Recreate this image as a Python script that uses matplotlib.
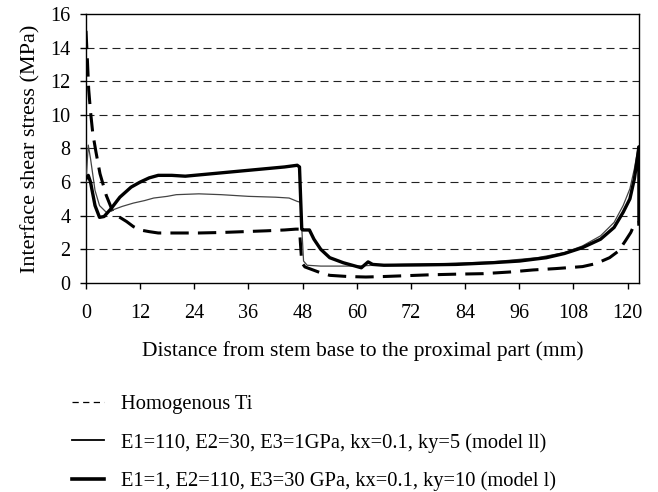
import matplotlib.pyplot as plt
from matplotlib.lines import Line2D

plt.rcParams['font.family'] = ['Liberation Serif', 'DejaVu Serif']

# Homogenous Ti stem
x_ti = [0, 0.3, 0.6, 1.0, 1.5, 2.2, 3.1, 4.5, 6, 7.5, 9, 10.5, 12, 14, 16, 20, 25, 30, 35,
        40, 44, 46.5, 47.3, 47.8, 48.5, 50, 52, 54, 58, 62, 66, 70, 76, 82, 88, 94, 99,
        104, 110, 113, 116, 118, 119.5, 120.7, 121.6, 122.5]
y_ti = [15.0, 13.3, 11.5, 10.2, 8.9, 7.8, 6.5, 5.2, 4.2, 3.9, 3.65, 3.35, 3.15, 3.05, 2.97,
        2.97, 2.97, 3.0, 3.05, 3.1, 3.15, 3.2, 3.2, 1.2, 0.95, 0.8, 0.6, 0.45, 0.38, 0.35,
        0.38, 0.42, 0.48, 0.52, 0.55, 0.65, 0.77, 0.85, 0.97, 1.15, 1.5, 1.9, 2.5, 3.0,
        3.55, 3.6]

# model ll
x_m2 = [0, 0.5, 1.0, 2, 3, 4.5, 6, 8, 10.5, 13, 15, 18, 20, 25, 30, 36, 42, 45, 46.8, 47.5,
        48.2, 49, 52, 56, 60, 64, 70, 80, 90, 100, 106, 110, 114, 117, 119, 120.5, 121.5,
        122.3, 122.5]
y_m2 = [6.0, 8.2, 7.4, 5.5, 4.6, 4.2, 4.35, 4.55, 4.75, 4.9, 5.05, 5.15, 5.25, 5.3, 5.25,
        5.15, 5.1, 5.05, 4.85, 4.8, 1.3, 1.05, 1.0, 1.0, 1.0, 1.05, 1.1, 1.15, 1.25, 1.5,
        1.8, 2.2, 2.8, 3.6, 4.6, 5.6, 6.8, 8.0, 4.0]

# model l
x_m1 = [0, 0.5, 1.0, 2.0, 3.0, 4.0, 5.5, 7.5, 10, 12, 14, 16, 19, 22, 26, 32, 38, 44, 46.8,
        47.3, 47.8, 48.0, 49.5, 50.5, 52, 54, 57, 61, 62.5, 63.5, 66, 74, 82, 90, 96, 102,
        106, 110, 114, 117, 119, 120.5, 121.5, 122.2, 122.5, 122.5]
y_m1 = [6.2, 6.4, 6.0, 4.6, 3.9, 3.95, 4.4, 5.1, 5.7, 6.0, 6.25, 6.4, 6.4, 6.35, 6.45, 6.6,
        6.75, 6.9, 7.0, 6.9, 3.2, 3.15, 3.15, 2.6, 2.0, 1.5, 1.2, 0.9, 1.25, 1.1, 1.05,
        1.07, 1.1, 1.2, 1.3, 1.5, 1.75, 2.1, 2.6, 3.3, 4.2, 5.0, 6.2, 7.5, 8.1, 3.5]

labels = ['Homogenous Ti',
          'E1=110, E2=30, E3=1GPa, kx=0.1, ky=5 (model ll)',
          'E1=1, E2=110, E3=30 GPa, kx=0.1, ky=10 (model l)']
x_ticks = list(range(0, 121, 12))
y_ticks = list(range(0, 17, 2))

fig = plt.figure(figsize=(6.58, 4.92), dpi=100)
ax = fig.add_axes([0.1307, 0.425, 0.8403, 0.5465])

for yv in y_ticks[1:-1]:
    ax.axhline(yv, color='#222222', lw=0.8, linestyle=(0, (7.2, 4.5)), zorder=1)

ax.plot(x_ti, y_ti, color='black', lw=2.2, linestyle=(0, (6, 3)), zorder=3)
ax.plot(x_m2, y_m2, color='#444444', lw=0.9, zorder=4)
ax.plot(x_m1, y_m1, color='black', lw=2.4, zorder=5)

ax.set_xlim(0, 122.5)
ax.set_ylim(0, 16)
ax.set_xticks(x_ticks)
ax.set_yticks(y_ticks)
ax.tick_params(labelsize=14.5, direction='out', length=4, width=1)
ax.tick_params(axis='x', pad=11)
ax.tick_params(axis='y', pad=7)
for s in ax.spines.values():
    s.set_linewidth(1.0)

ax.set_xlabel('Distance from stem base to the proximal part (mm)', fontsize=15.5, labelpad=13)
ax.set_ylabel('Interface shear stress (MPa)', fontsize=16, labelpad=7)

handles = [Line2D([], [], color='black', lw=0.9, linestyle=(0, (5, 3.5))),
           Line2D([], [], color='black', lw=1.3),
           Line2D([], [], color='black', lw=2.6)]
fig.legend(handles, labels, loc='upper left', bbox_to_anchor=(0.094, 0.218),
           frameon=False, fontsize=14.8, handlelength=1.55, handletextpad=0.85,
           labelspacing=0.9, borderpad=0)

fig.savefig('out.png', dpi=100)
